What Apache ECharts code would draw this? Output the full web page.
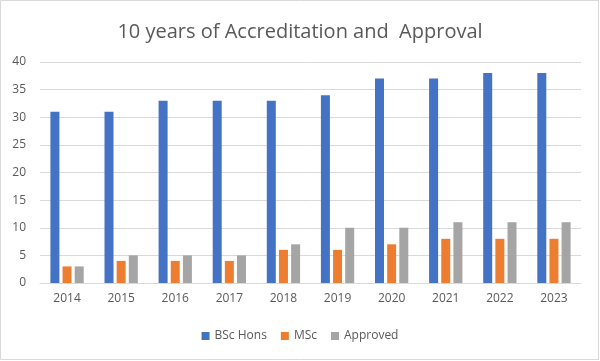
<!DOCTYPE html>
<html>
<head>
<meta charset="utf-8">
<script src="https://cdn.jsdelivr.net/npm/echarts@6/dist/echarts.min.js"></script>
<style>html,body{margin:0;padding:0;background:#fff}#c{width:600px;height:361px}</style>
</head>
<body>
<div id="c"></div>
<script>
const categories = ['2014','2015','2016','2017','2018','2019','2020','2021','2022','2023'];
const bscHons = [31,31,33,33,33,34,37,37,38,38];
const msc = [3,4,4,4,6,6,7,8,8,8];
const approved = [3,5,5,5,7,10,10,11,11,11];
const yTicks = {min:0, max:40, interval:5};

const chart = echarts.init(document.getElementById('c'));
const font = '"Open Sans", "Noto Sans", sans-serif';
chart.setOption({
  animation:false,
  textStyle:{fontFamily:font},
  color:['#4472C4','#ED7D31','#A5A5A5'],
  graphic:[{type:'rect',shape:{x:0.5,y:0.5,width:598,height:359},style:{fill:'none',stroke:'#d9d9d9',lineWidth:1}}],
  title:{text:'10 years of Accreditation and  Approval',left:'center',top:17,
    textStyle:{fontFamily:font,fontSize:20,fontWeight:'normal',color:'#595959'}},
  grid:{left:40,right:19,top:62,bottom:78},
  legend:{bottom:14,left:'center',itemWidth:8,itemHeight:8,itemGap:14,icon:'rect',
    textStyle:{fontFamily:font,fontSize:12,color:'#595959'}},
  xAxis:{type:'category',data:categories,
    axisLine:{lineStyle:{color:'#d9d9d9'}},axisTick:{show:false},
    axisLabel:{color:'#595959',fontSize:12,margin:10,fontFamily:font}},
  yAxis:{type:'value',min:yTicks.min,max:yTicks.max,interval:yTicks.interval,
    axisLine:{show:false},axisTick:{show:false},
    splitLine:{lineStyle:{color:'#d9d9d9'}},
    axisLabel:{color:'#595959',fontSize:12,margin:14,fontFamily:font}},
  series:[
    {name:'BSc Hons',type:'bar',data:bscHons,barWidth:9,barGap:'35%'},
    {name:'MSc',type:'bar',data:msc,barWidth:9,barGap:'35%'},
    {name:'Approved',type:'bar',data:approved,barWidth:9,barGap:'35%'}
  ]
});
</script>
</body>
</html>
